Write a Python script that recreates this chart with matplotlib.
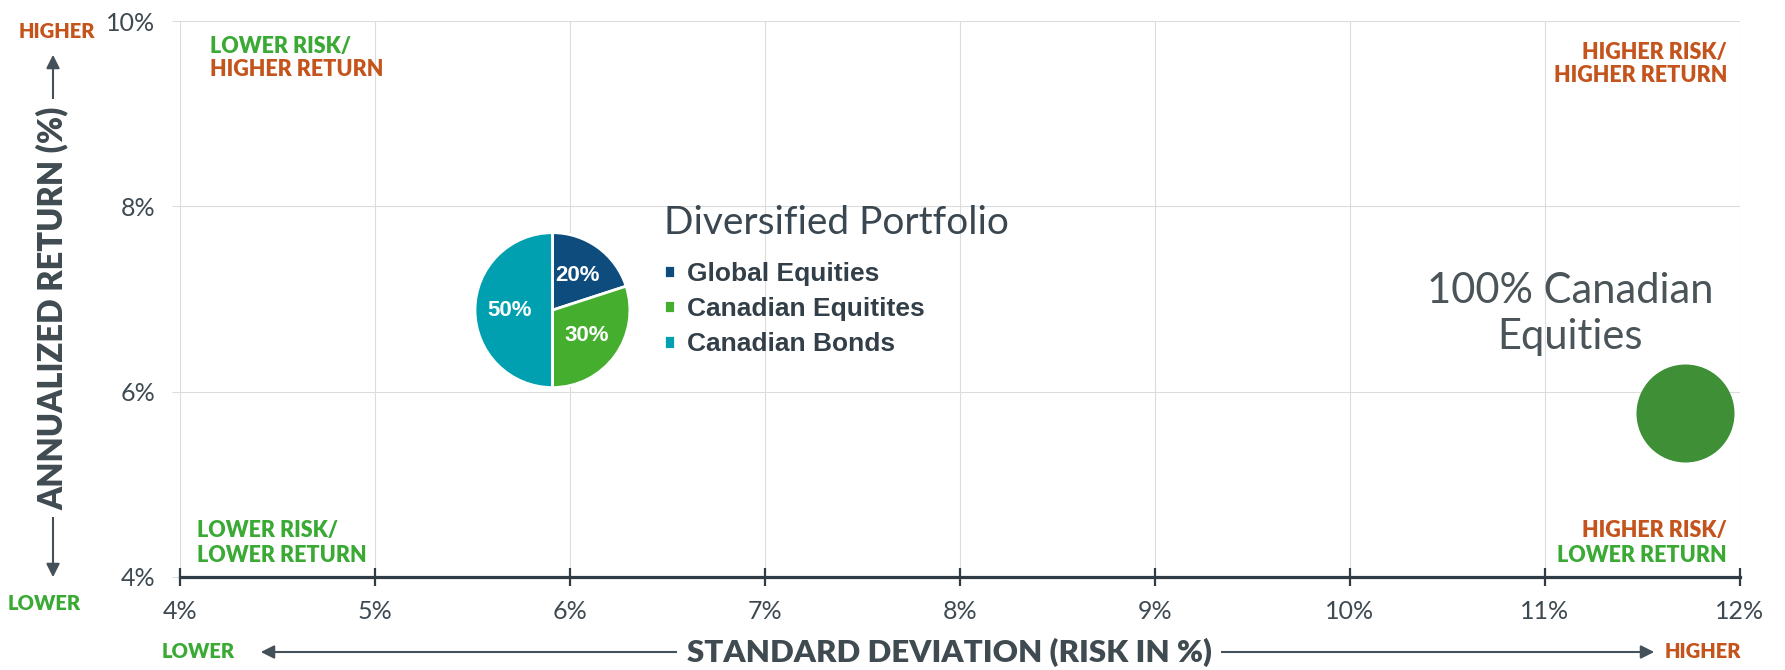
import matplotlib as mpl
import matplotlib.pyplot as plt
from matplotlib.patches import FancyArrowPatch

# figure size in pixels (dpi 100)
W, H = 1785, 670

# axis ticks (percent)
risk_ticks = [4, 5, 6, 7, 8, 9, 10, 11, 12]
return_ticks = [4, 6, 8, 10]

# diversified portfolio position and mix
portfolio_risk = 5.91
portfolio_return = 6.88
portfolio_labels = ["Global Equities", "Canadian Equitites", "Canadian Bonds"]
portfolio_weights = [20, 30, 50]

# 100% canadian equities position
canadian_risk = [11.72]
canadian_return = [5.77]

GREEN = "#3aaa35"
ORANGE = "#c4541c"
SLATE = "#3e4a52"
DARK = "#2f3c46"
GRID = "#dcdcdc"
PIE_COLORS = ["#0d4c7c", "#45ae2f", "#00a0b0"]

BOLD_FONT = ["Lato", "DejaVu Sans"]
TEXT_FONT = ["Lato", "DejaVu Sans"]
ARIAL = ["Liberation Sans", "DejaVu Sans"]

mpl.rcParams.update({
    "font.family": TEXT_FONT,
    "figure.facecolor": "white",
})


def fx(px):
    return px / W


def fy(py):
    return 1.0 - py / H


fig = plt.figure(figsize=(W / 100, H / 100), dpi=100)
ax = fig.add_axes([fx(180), fy(577), fx(1740) - fx(180), fy(21) - fy(577)])

ax.set_xlim(risk_ticks[0], risk_ticks[-1])
ax.set_ylim(return_ticks[0], return_ticks[-1])
ax.set_xticks(risk_ticks)
ax.set_yticks(return_ticks)
ax.set_xticklabels([f"{t}%" for t in risk_ticks])
ax.set_yticklabels([f"{t}%" for t in return_ticks])
ax.grid(True, color=GRID, linewidth=0.8)
ax.set_axisbelow(True)
for side in ["top", "right", "left"]:
    ax.spines[side].set_visible(False)
ax.spines["bottom"].set_color(DARK)
ax.spines["bottom"].set_linewidth(2.3)
ax.spines["bottom"].set_zorder(4)
ax.tick_params(axis="x", direction="inout", length=13, width=1.6, color=DARK,
               pad=10, labelsize=18, labelcolor=SLATE)
ax.tick_params(axis="y", direction="out", length=6, width=0.8, color=GRID,
               pad=12, labelsize=18, labelcolor=SLATE)

# 100% canadian equities bubble
ax.scatter(canadian_risk, canadian_return, s=(98 * 0.72) ** 2, color="#3e8f35",
           linewidths=0, zorder=3)
ax.text(11.13, 6.84, "100% Canadian\nEquities", ha="center", va="center",
        fontsize=30, color="#4a5459", linespacing=1.25)

# diversified portfolio pie placed at its risk/return point
cx, cy = ax.transData.transform((portfolio_risk, portfolio_return))
r = 79
pax = fig.add_axes([(cx - r) / W, (cy - r) / H, 2 * r / W, 2 * r / H])
wedges, _, autotexts = pax.pie(
    portfolio_weights, colors=PIE_COLORS, startangle=90, counterclock=False,
    autopct=lambda p: f"{p:.0f}%", pctdistance=0.55,
    wedgeprops={"edgecolor": "white", "linewidth": 2},
    textprops={"color": "white", "fontsize": 16, "fontweight": "bold", "family": ARIAL},
)
pax.set_aspect("auto")
pax.set_xlim(-1.02, 1.02)
pax.set_ylim(-1.02, 1.02)

fig.text(fx(664), fy(223), "Diversified Portfolio", ha="left", va="center",
         fontsize=28, color="#3a4750")
leg = fig.legend(wedges, portfolio_labels, loc="upper left",
                 bbox_to_anchor=(fx(664), fy(262)), frameon=False,
                 handlelength=0.42, handleheight=0.42, handletextpad=0.45,
                 labelspacing=0.42, borderpad=0, borderaxespad=0,
                 prop={"family": ARIAL, "weight": "bold", "size": 19})
for t in leg.get_texts():
    t.set_color("#333f48")

# quadrant labels
quad_kw = dict(fontsize=15.5, fontweight="heavy", family=BOLD_FONT)
fig.text(fx(210), fy(47), "LOWER RISK/", color=GREEN, ha="left", va="center", **quad_kw)
fig.text(fx(210), fy(70), "HIGHER RETURN", color=ORANGE, ha="left", va="center", **quad_kw)
fig.text(fx(1727), fy(52), "HIGHER RISK/", color=ORANGE, ha="right", va="center", **quad_kw)
fig.text(fx(1727), fy(76), "HIGHER RETURN", color=ORANGE, ha="right", va="center", **quad_kw)
fig.text(fx(197), fy(530), "LOWER RISK/", color=GREEN, ha="left", va="center", **quad_kw)
fig.text(fx(197), fy(555), "LOWER RETURN", color=GREEN, ha="left", va="center", **quad_kw)
fig.text(fx(1727), fy(530), "HIGHER RISK/", color=ORANGE, ha="right", va="center", **quad_kw)
fig.text(fx(1727), fy(555), "LOWER RETURN", color=GREEN, ha="right", va="center", **quad_kw)

# axis titles with direction arrows
ARROW = "#44515a"
fig.add_artist(FancyArrowPatch((fx(53), fy(580)), (fx(53), fy(52)), transform=fig.transFigure,
                               arrowstyle="<|-|>", mutation_scale=20, color=ARROW, linewidth=1.5))
fig.text(fx(52), fy(308), "ANNUALIZED RETURN (%)", rotation=90, ha="center", va="center",
         fontsize=23.5, fontweight="heavy", family=BOLD_FONT, color="#3f4b50",
         bbox={"facecolor": "white", "edgecolor": "none", "pad": 5})
fig.text(fx(57), fy(31), "HIGHER", ha="center", va="center", fontsize=14.5,
         fontweight="heavy", family=BOLD_FONT, color=ORANGE)
fig.text(fx(44), fy(604), "LOWER", ha="center", va="center", fontsize=14.5,
         fontweight="heavy", family=BOLD_FONT, color=GREEN)

fig.add_artist(FancyArrowPatch((fx(258), fy(652)), (fx(1657), fy(652)), transform=fig.transFigure,
                               arrowstyle="<|-|>", mutation_scale=20, color=ARROW, linewidth=1.5))
fig.text(fx(949), fy(652), "STANDARD DEVIATION (RISK IN %)", ha="center", va="center",
         fontsize=22.5, fontweight="heavy", family=BOLD_FONT, color="#3f4b50",
         bbox={"facecolor": "white", "edgecolor": "none", "pad": 7})
fig.text(fx(198), fy(652), "LOWER", ha="center", va="center", fontsize=14.5,
         fontweight="heavy", family=BOLD_FONT, color=GREEN)
fig.text(fx(1703), fy(652), "HIGHER", ha="center", va="center", fontsize=14.5,
         fontweight="heavy", family=BOLD_FONT, color=ORANGE)

fig.savefig("out.png", dpi=100)
